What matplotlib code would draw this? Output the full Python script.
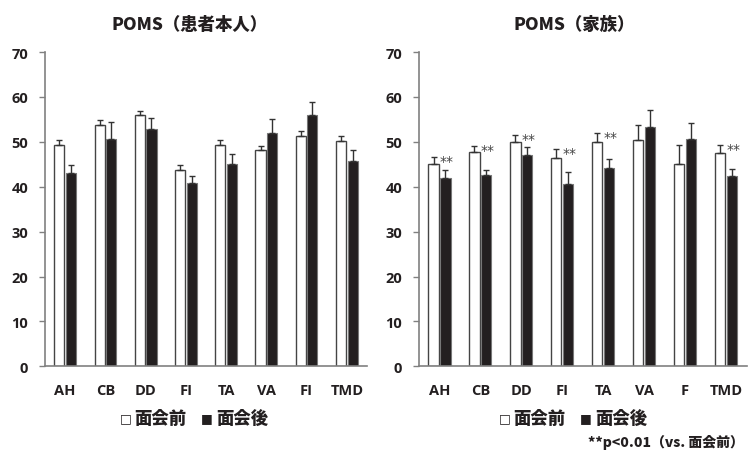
import numpy as np
import matplotlib.pyplot as plt

plt.rcParams['font.family'] = ['Open Sans', 'Noto Sans CJK JP', 'DejaVu Sans']

# 患者本人
cats_p = ['AH', 'CB', 'DD', 'FI', 'TA', 'VA', 'FI', 'TMD']
pre_p = [49.4, 53.8, 55.9, 43.8, 49.4, 48.1, 51.4, 50.2]
pre_p_err = [1.0, 1.0, 1.0, 1.0, 1.0, 1.0, 1.0, 1.0]
post_p = [43.0, 50.7, 52.9, 40.8, 45.0, 52.0, 55.9, 45.8]
post_p_err = [1.8, 3.7, 2.5, 1.5, 2.3, 3.1, 2.9, 2.3]

# 家族
cats_f = ['AH', 'CB', 'DD', 'FI', 'TA', 'VA', 'F', 'TMD']
pre_f = [45.1, 47.8, 49.9, 46.4, 50.0, 50.3, 45.0, 47.6]
pre_f_err = [1.6, 1.3, 1.6, 2.0, 1.9, 3.5, 4.3, 1.7]
post_f = [42.0, 42.5, 47.0, 40.7, 44.1, 53.3, 50.7, 42.3]
post_f_err = [1.7, 1.3, 1.8, 2.6, 2.1, 3.8, 3.5, 1.7]
sig_f = [True, True, True, True, True, False, False, True]

titles = ['POMS（患者本人）', 'POMS（家族）']

fig = plt.figure(figsize=(7.48, 4.52), dpi=100)
ax1 = fig.add_axes([0.0602, 0.1874, 0.4304, 0.6953])
ax2 = fig.add_axes([0.5602, 0.1874, 0.4378, 0.6953])

w = 0.25
off = 0.145
dark = '#231f20'
jp = 'Noto Sans CJK JP'

panels = [
    (ax1, cats_p, pre_p, pre_p_err, post_p, post_p_err, None),
    (ax2, cats_f, pre_f, pre_f_err, post_f, post_f_err, sig_f),
]

for ax, cats, pre, pre_e, post, post_e, sig in panels:
    x = np.arange(len(cats))
    ax.bar(x - off, pre, w, color='white', edgecolor='#444444', linewidth=1.0)
    ax.bar(x + off, post, w, color=dark, edgecolor='#777777', linewidth=0.8)
    ax.errorbar(x - off, pre, yerr=[np.zeros(len(pre)), pre_e], fmt='none',
                ecolor='#333333', elinewidth=1.0, capsize=2, capthick=1.0)
    ax.errorbar(x + off, post, yerr=[np.zeros(len(post)), post_e], fmt='none',
                ecolor='#333333', elinewidth=1.0, capsize=2, capthick=1.0)
    if sig is not None:
        for i in range(len(cats)):
            if sig[i]:
                ax.text(x[i] + off + 0.03, pre[i] + pre_e[i] - 0.9, '**',
                        ha='center', va='center', fontsize=10, color='#444444',
                        family='DejaVu Sans')
    ax.set_xlim(-0.5, 7.5)
    ax.set_ylim(0, 70)
    ax.set_yticks(range(0, 71, 10))
    ax.set_xticks(x)
    ax.set_xticklabels(cats, fontsize=10.5, fontweight='bold', color=dark)
    ax.tick_params(axis='x', length=0, pad=12)
    ax.tick_params(axis='y', length=4, width=1, color='#808080', pad=8,
                   labelsize=10.5, labelcolor=dark)
    for lab in ax.get_yticklabels():
        lab.set_fontweight('bold')
    for s in ['top', 'right']:
        ax.spines[s].set_visible(False)
    for s in ['left', 'bottom']:
        ax.spines[s].set_color('#808080')
        ax.spines[s].set_linewidth(1.2)

fig.text(190 / 748, 1 - 25 / 452, titles[0], ha='center', va='center', fontsize=12.5,
         fontweight='heavy', family=jp, color=dark)
fig.text(574 / 748, 1 - 25 / 452, titles[1], ha='center', va='center', fontsize=12.5,
         fontweight='heavy', family=jp, color=dark)

# legend rows: square + label, positions in pixels
ly = 1 - 419 / 452
for x0 in [122, 501]:
    fig.text((x0 + 4) / 748, ly, '□', ha='center', va='center', fontsize=9,
             family='DejaVu Sans', color=dark)
    fig.text((x0 + 12) / 748, ly, '面会前', ha='left', va='center', fontsize=12.5,
             fontweight='heavy', family=jp, color=dark)
    fig.text((x0 + 85) / 748, ly, '■', ha='center', va='center', fontsize=9,
             family='DejaVu Sans', color=dark)
    fig.text((x0 + 94) / 748, ly, '面会後', ha='left', va='center', fontsize=12.5,
             fontweight='heavy', family=jp, color=dark)

fig.text(744 / 748, 1 - 443 / 452, '**p<0.01（vs. 面会前）', ha='right', va='center',
         fontsize=10, fontweight='heavy', family=jp, color=dark)

fig.savefig('out.png', dpi=100)
